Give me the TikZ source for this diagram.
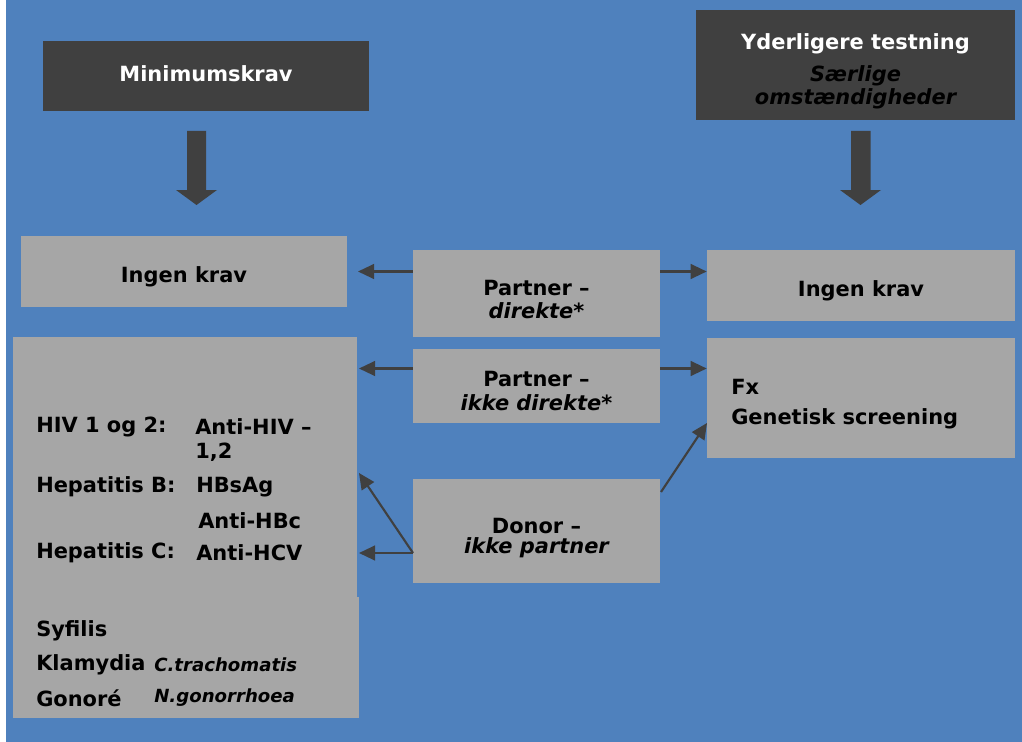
\documentclass[tikz,border=0pt]{standalone}
\usepackage{fontspec}
\setmainfont{DejaVu Sans}
\usetikzlibrary{arrows.meta}
\definecolor{bgblue}{HTML}{4F81BD}
\definecolor{darkgr}{HTML}{404040}
\definecolor{boxgr}{HTML}{A6A6A6}
\tikzset{
  darkbox/.style={fill=darkgr, draw=none, inner sep=0pt},
  graybox/.style={fill=boxgr, draw=none, inner sep=0pt},
  txt/.style={font=\bfseries\fontsize{15.7}{19}\selectfont, text=black, inner sep=0pt},
  itxt/.style={font=\bfseries\itshape\fontsize{15.7}{19}\selectfont, text=black, inner sep=0pt},
  wtxt/.style={font=\bfseries\fontsize{15.7}{19}\selectfont, text=white, inner sep=0pt},
  conn/.style={draw=darkgr, line width=1.6pt, -{Triangle[length=12pt,width=11pt]}},
  blockarrow/.style={fill=darkgr, draw=none}
}
\begin{document}
\begin{tikzpicture}[x=0.75pt, y=-0.75pt]
\useasboundingbox (0,0) rectangle (1022,742);
\fill[white] (0,0) rectangle (1022,742);
\fill[bgblue] (6,0) rectangle (1022,742);

% header boxes
\node[darkbox, minimum width=326*0.75pt, minimum height=70*0.75pt] (mk) at (206,76) {};
\node[wtxt] (mkt) at (206,74) {Minimumskrav};

\node[darkbox, minimum width=319*0.75pt, minimum height=110*0.75pt] (yt) at (855.5,65) {};
\node[wtxt] (ytt) at (855.5,44) {Yderligere testning};
\node[itxt] (yts1) at (855.5,76) {Særlige};
\node[itxt] (yts2) at (855.5,99) {omstændigheder};

% block arrows
\fill[blockarrow] (187,131) -- (206,131) -- (206,190) -- (217,190) -- (196.5,205) -- (176,190) -- (187,190) -- cycle;
\fill[blockarrow] (851,131) -- (870.5,131) -- (870.5,190) -- (881,190) -- (860.5,205) -- (840,190) -- (851,190) -- cycle;

% left column
\node[graybox, minimum width=326*0.75pt, minimum height=71*0.75pt] (ikl) at (184,271.5) {};
\node[txt] at (184,277) {Ingen krav};

\node[graybox, minimum width=344*0.75pt, minimum height=260*0.75pt] (big) at (185,467) {};
\node[graybox, minimum width=346*0.75pt, minimum height=121*0.75pt] (big2) at (186,657.5) {};
\node[txt, anchor=west] at (36,427) {HIV 1 og 2:};
\node[txt, anchor=west] at (195,427) {Anti-HIV –};
\node[txt, anchor=west] at (195,452) {1,2};
\node[txt, anchor=west] at (36,487) {Hepatitis B:};
\node[txt, anchor=west] at (196,487) {HBsAg};
\node[txt, anchor=west] at (198,521) {Anti-HBc};
\node[txt, anchor=west] at (36,553) {Hepatitis C:};
\node[txt, anchor=west] at (196,553) {Anti-HCV};
\node[txt, anchor=west] at (36,631) {Syfilis};
\node[txt, anchor=west] at (36,665) {Klamydia};
\node[itxt, anchor=west, font=\bfseries\itshape\fontsize{13.6}{16}\selectfont] at (154,665) {C.trachomatis};
\node[txt, anchor=west] at (36,698) {Gonoré};
\node[itxt, anchor=west, font=\bfseries\itshape\fontsize{13.6}{16}\selectfont] at (154,698) {N.gonorrhoea};

% middle column
\node[graybox, minimum width=247*0.75pt, minimum height=87*0.75pt] (pd) at (536.5,293.5) {};
\node[txt] at (536.5,288) {Partner –};
\node[itxt] at (536.5,311) {direkte*};

\node[graybox, minimum width=247*0.75pt, minimum height=74*0.75pt] (pid) at (536.5,386) {};
\node[txt] at (536.5,379) {Partner –};
\node[itxt] at (536.5,403) {ikke direkte*};

\node[graybox, minimum width=247*0.75pt, minimum height=104*0.75pt] (dn) at (536.5,531) {};
\node[txt] at (536.5,526) {Donor –};
\node[itxt] at (536.5,548) {ikke partner};

% right column
\node[graybox, minimum width=308*0.75pt, minimum height=71*0.75pt] (ikr) at (861,285.5) {};
\node[txt] at (861,291) {Ingen krav};

\node[graybox, minimum width=308*0.75pt, minimum height=120*0.75pt] (fx) at (861,398) {};
\node[txt, anchor=west] at (731,387) {Fx};
\node[txt, anchor=west] at (731,419) {Genetisk screening};

% connectors
\coordinate (c1) at (358,271.5);
\draw[conn] (pd.west |- c1) -- (c1);
\draw[conn] (pd.east |- c1) -- (ikr.west |- c1);
\coordinate (c2) at (359,368.5);
\draw[conn] (pid.west |- c2) -- (c2);
\draw[conn] (pid.east |- c2) -- (fx.west |- c2);
\coordinate (d0) at (413,553);
\coordinate (c3) at (359,553);
\coordinate (c4) at (359,473);
\draw[conn] (d0) -- (c3);
\draw[conn] (d0) -- (c4);
\coordinate (d1) at (661,492);
\coordinate (c5) at (707,423);
\draw[conn] (d1) -- (c5);
\end{tikzpicture}
\end{document}
